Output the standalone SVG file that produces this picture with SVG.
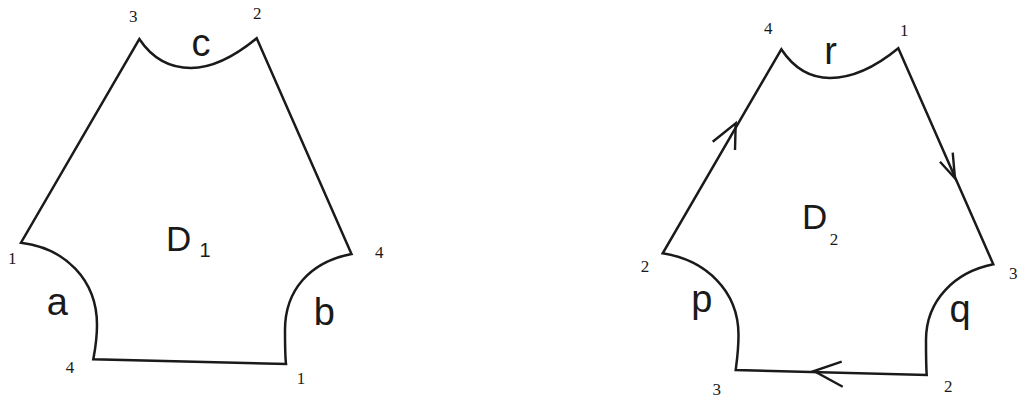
<svg xmlns="http://www.w3.org/2000/svg" width="1018" height="400" viewBox="0 0 1018 400">
<style>
.edge{fill:none;stroke:#1a1a1a;stroke-width:2.5;stroke-linejoin:miter}
.arr{fill:none;stroke:#1a1a1a;stroke-width:2.4}
.num{font-family:"Liberation Serif",serif;font-size:17px;fill:#1a1a1a;text-anchor:middle}
.lbl{font-family:"Liberation Sans",Arial,sans-serif;font-size:38px;fill:#1a1a1a;text-anchor:middle}
.big{font-family:"Liberation Sans",Arial,sans-serif;font-size:35px;fill:#1a1a1a}
</style>
<rect width="1018" height="400" fill="#ffffff"/>
<g id="D1">
<path class="edge" d="M139.3,39 C152,58 170,68 191,68 C215,68 240,52 256.7,38.3 L351.5,254 C310,262 285,290 285,330 C285,345 285,355 286,364 L93.3,359.3 C95,350 97,340 97,325 C97,280 65,248 21,242.7 Z"/>
<text class="num" x="133.3" y="22">3</text>
<text class="num" x="257.3" y="19">2</text>
<text class="num" x="12.3" y="263.5">1</text>
<text class="num" x="379.3" y="257.5">4</text>
<text class="num" x="70" y="373">4</text>
<text class="num" x="301" y="383.5">1</text>
<text class="lbl" x="201" y="56">c</text>
<text class="lbl" x="57.3" y="315">a</text>
<text class="lbl" x="324.3" y="325">b</text>
<text class="big" x="166" y="251">D</text>
<text font-family="Liberation Sans, Arial, sans-serif" font-size="20" fill="#1a1a1a" x="199.5" y="256.5">1</text>
</g>
<g id="D2">
<path class="edge" d="M781.3,49.3 C795,70 812,78 830,78 C855,78 878,65 898.3,48.3 L993.3,264.3 C955,272 926,300 926,340 C926,355 926,365 926.7,375 L735.7,370 C737,360 738.5,350 738.5,335 C738.5,290 705,260 662.7,253.3 Z"/>
<text class="num" x="768.3" y="33.5">4</text>
<text class="num" x="904.3" y="36">1</text>
<text class="num" x="645" y="272">2</text>
<text class="num" x="1013.3" y="278.5">3</text>
<text class="num" x="716.7" y="395">3</text>
<text class="num" x="948.3" y="392">2</text>
<text class="lbl" x="830.7" y="63.5">r</text>
<text class="lbl" x="701.7" y="312">p</text>
<text class="lbl" x="960" y="321.5">q</text>
<text class="big" x="802" y="229">D</text>
<text class="num" x="834" y="245">2</text>
</g>
<g id="connectors">
<path class="arr" d="M712.7,141.7 L735.7,123.3 L735,150"/>
<path class="arr" d="M940,161.7 L955,178.3 L952.7,152.7"/>
<path class="arr" d="M841.7,361.7 L814,371 L842.7,386.7"/>
</g>
</svg>
